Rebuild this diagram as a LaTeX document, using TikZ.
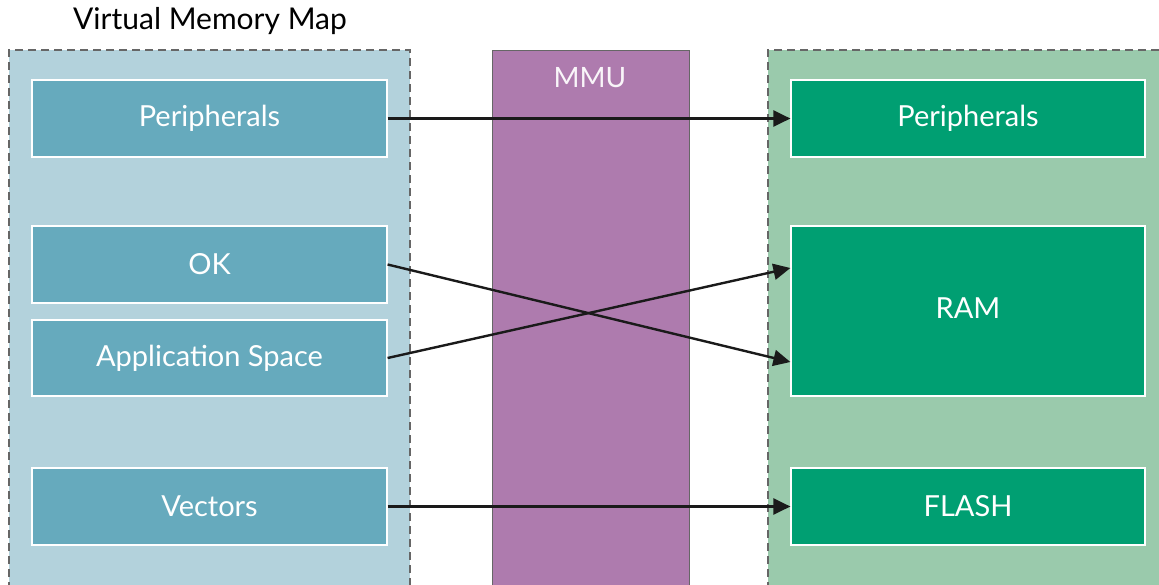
\documentclass[tikz,border=0pt]{standalone}
\usepackage{fontspec}
\setmainfont{Lato}
\usetikzlibrary{arrows.meta,calc}
\definecolor{vpanel}{HTML}{B3D2DC}
\definecolor{vbox}{HTML}{66AABD}
\definecolor{ppanel}{HTML}{9ACAAC}
\definecolor{pbox}{HTML}{009F72}
\definecolor{mmu}{HTML}{AE7BAE}
\definecolor{edge}{HTML}{666666}
\definecolor{arrowc}{HTML}{1A1A1A}
\tikzset{
  panelborder/.style={draw=edge, line width=1.2pt, dash pattern=on 8pt off 5pt},
  vmembox/.style={rectangle, draw=white, line width=1.2pt, fill=vbox, text=white,
    minimum width=355pt, font=\fontsize{29}{33}\selectfont, inner sep=0pt},
  pmembox/.style={rectangle, draw=white, line width=1.2pt, fill=pbox, text=white,
    minimum width=354pt, font=\fontsize{29}{33}\selectfont, inner sep=0pt},
  maparrow/.style={draw=arrowc, line width=2.4pt, -{Triangle[length=17pt,width=16pt]}},
  title/.style={font=\fontsize{30}{34}\selectfont, text=black, inner sep=0pt}
}
\begin{document}
\begin{tikzpicture}[x=1pt,y=-1pt]
\useasboundingbox (0,0) rectangle (1159,584);
% left panel
\fill[vpanel] (9,50) rectangle (410,590);
\draw[panelborder] (9,590) -- (9,50) -- (410,50) -- (410,590);
% right panel
\fill[ppanel] (768,50) rectangle (1170,590);
\draw[panelborder] (768,590) -- (768,50) -- (1170,50);
% MMU
\filldraw[fill=mmu, draw=edge, line width=1pt] (492,50) rectangle (689,590);
\node[text=white!92!mmu, font=\fontsize{28}{32}\selectfont, inner sep=0pt] (mmul) at (590,78) {MMU};
% title
\node[title] (ttl) at (210,21) {Virtual Memory Map};
% virtual boxes
\node[vmembox, minimum height=77pt] (vper) at (209.5,118.5) {Peripherals};
\node[vmembox, minimum height=77pt] (vok) at (209.5,264.5) {OK};
\node[vmembox, minimum height=76pt] (vapp) at (209.5,358) {Application Space};
\node[vmembox, minimum height=77pt] (vvec) at (209.5,506.5) {Vectors};
% physical boxes
\node[pmembox, minimum height=77pt] (pper) at (968,118.5) {Peripherals};
\node[pmembox, minimum height=170pt] (pram) at (968,311) {\raisebox{5pt}{RAM}};
\node[pmembox, minimum height=77pt] (pfl) at (968,506.5) {FLASH};
% arrows
\draw[maparrow] (vper.east) -- (pper.west);
\draw[maparrow] (vok.east) -- ([yshift=-51pt]pram.west);
\draw[maparrow] (vapp.east) -- ([yshift=43pt]pram.west);
\draw[maparrow] (vvec.east) -- (pfl.west);
\end{tikzpicture}
\end{document}
